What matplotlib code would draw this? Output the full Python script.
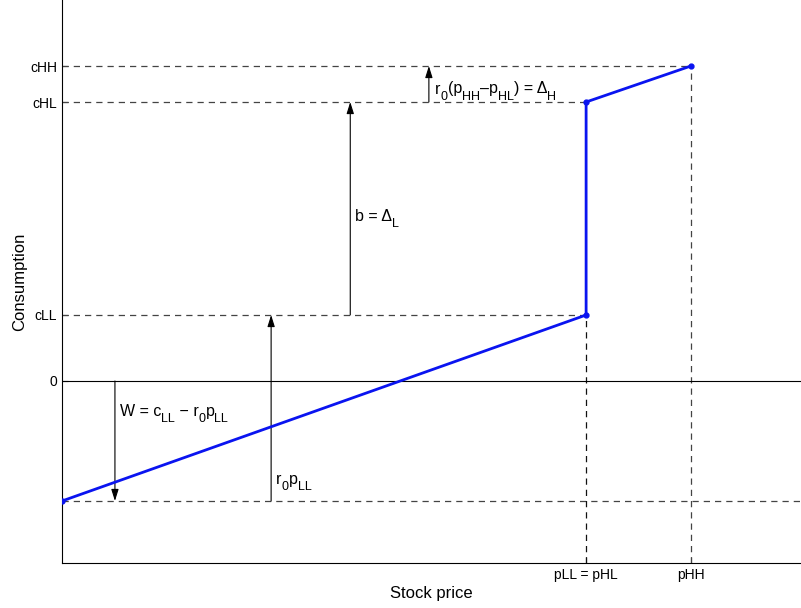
import matplotlib
matplotlib.use("Agg")
import matplotlib.pyplot as plt
from matplotlib.transforms import offset_copy
from matplotlib.font_manager import FontProperties

plt.rcParams['font.family'] = ['Liberation Sans', 'DejaVu Sans']

# data (normalized units)
p_LL = 1.0          # = p_HL
p_HH = 1.2
c_LL = 0.66
c_HL = 2.79
c_HH = 3.15
W = -1.20           # c_LL - r0*p_LL
x_min, x_max = 0.0, 1.41
y_min, y_max = -1.82, 3.81

line_x = [0.0, p_LL, p_LL, p_HH]
line_y = [W, c_LL, c_HL, c_HH]

ytick_vals = [0, c_LL, c_HL, c_HH]
ytick_labels = ['0', 'cLL', 'cHL', 'cHH']
xtick_vals = [p_LL, p_HH]
xtick_labels = ['pLL = pHL', 'pHH']

arrow_x = [0.101, 0.399, 0.55, 0.70]

# annotation labels: list of (text, is_subscript)
label_W = [('W = c', 0), ('LL', 1), (' − r', 0), ('0', 1), ('p', 0), ('LL', 1)]
label_r0p = [('r', 0), ('0', 1), ('p', 0), ('LL', 1)]
label_b = [('b = Δ', 0), ('L', 1)]
label_dH = [('r', 0), ('0', 1), ('(p', 0), ('HH', 1), ('–p', 0), ('HL', 1), (') = Δ', 0), ('H', 1)]

fig = plt.figure(figsize=(8.01, 6.08), dpi=100)
ax = fig.add_axes([62/801, 45/608, 1 - 62/801, 1 - 45/608])
ax.set_xlim(x_min, x_max)
ax.set_ylim(y_min, y_max)

dash = dict(color='#444444', lw=0.9, ls=(0, (5, 4)))
ax.plot([x_min, p_HH], [c_HH, c_HH], **dash)
ax.plot([x_min, p_LL], [c_HL, c_HL], **dash)
ax.plot([x_min, p_LL], [c_LL, c_LL], **dash)
ax.plot([x_min, x_max], [W, W], **dash)
ax.plot([p_LL, p_LL], [y_min, c_LL], color='#111111', lw=0.9, ls=(0, (5, 4)))
ax.plot([p_HH, p_HH], [y_min, c_HH], **dash)
ax.plot([x_min, x_max], [0, 0], color='black', lw=0.8)

ax.plot(line_x, line_y, color='#0a14f0', lw=2, marker='o', ms=3.5, zorder=5)

ap = dict(arrowstyle='-|>,head_length=0.7,head_width=0.22', color='black', lw=0.8,
          shrinkA=0, shrinkB=0)
ax.annotate('', xy=(arrow_x[0], W), xytext=(arrow_x[0], 0), arrowprops=ap)
ax.annotate('', xy=(arrow_x[1], c_LL), xytext=(arrow_x[1], W), arrowprops=ap)
ax.annotate('', xy=(arrow_x[2], c_HL), xytext=(arrow_x[2], c_LL), arrowprops=ap)
ax.annotate('', xy=(arrow_x[3], c_HH), xytext=(arrow_x[3], c_HL), arrowprops=ap)

renderer = fig.canvas.get_renderer()
MAIN_FS, SUB_FS, SUB_DROP = 11.5, 9.0, 6.0  # pt, pt, px


def text_width(s, fs):
    prop = FontProperties(family=['Liberation Sans'], size=fs)
    w1, _, _ = renderer.get_text_width_height_descent('X' + s + 'X', prop, ismath=False)
    w0, _, _ = renderer.get_text_width_height_descent('XX', prop, ismath=False)
    return w1 - w0


def rich_text(x, y, parts):
    dx = 0.0
    for s, sub in parts:
        fs = SUB_FS if sub else MAIN_FS
        dy = -SUB_DROP if sub else 0.0
        tr = offset_copy(ax.transData, fig=fig, x=dx, y=dy, units='dots')
        ax.text(x, y, s, fontsize=fs, transform=tr, va='baseline', ha='left')
        dx += text_width(s, fs)


rich_text(0.110, -0.35, label_W)
rich_text(0.409, -1.035, label_r0p)
rich_text(0.559, 1.60, label_b)
rich_text(0.712, 2.875, label_dH)

ax.set_yticks(ytick_vals)
ax.set_yticklabels(ytick_labels)
ax.set_xticks(xtick_vals)
ax.set_xticklabels(xtick_labels)
ax.tick_params(direction='in', length=4, labelsize=10, width=0.8)
ax.spines['top'].set_visible(False)
ax.spines['right'].set_visible(False)
ax.set_xlabel('Stock price', fontsize=12, labelpad=3)
ax.set_ylabel('Consumption', fontsize=12, labelpad=2)

fig.savefig('out.png', dpi=100)
